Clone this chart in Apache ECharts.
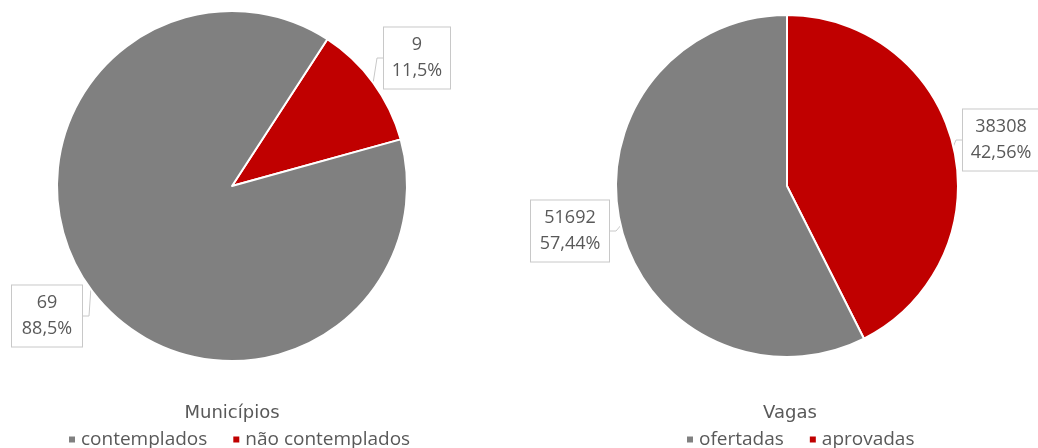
<!DOCTYPE html>
<html>
<head>
<meta charset="utf-8">
<script src="https://cdn.jsdelivr.net/npm/echarts@6/dist/echarts.min.js"></script>
<style>
  html, body { margin: 0; padding: 0; background: #fff; }
  #chart { width: 1038px; height: 448px; }
</style>
</head>
<body>
<div id="chart"></div>
<script>
  // Municípios
  const munNames = ['não contemplados', 'contemplados'];
  const munValues = [9, 69];
  // Vagas
  const vagNames = ['aprovadas', 'ofertadas'];
  const vagValues = [38308, 51692];

  const colors = { red: '#c00000', gray: '#808080' };
  const textColor = '#595959';

  // posicoes das caixas de rotulo (centro) e largura
  const labelPos = {
    'não contemplados': [417, 58, 66],
    'contemplados': [47, 316, 70],
    'aprovadas': [1001, 140, 76],
    'ofertadas': [570, 231, 78]
  };

  function mkData(names, values) {
    return names.map((n, i) => ({
      name: n,
      value: values[i],
      itemStyle: { color: i === 0 ? colors.red : colors.gray }
    }));
  }

  function labelFmt(p) {
    return p.value + '\n' + String(p.percent).replace('.', ',') + '%';
  }

  const baseLabel = {
    show: true,
    formatter: labelFmt,
    color: textColor,
    fontSize: 18,
    fontFamily: 'Open Sans, sans-serif',
    lineHeight: 26,
    backgroundColor: '#fff',
    borderColor: '#c8c8c8',
    borderWidth: 1,
    padding: [5, 0, 4, 0],
    overflow: 'none',
    align: 'center'
  };

  function layoutFor(names) {
    return function (p) {
      const pos = labelPos[names[p.dataIndex]];
      return { x: pos[0], y: pos[1], width: pos[2], verticalAlign: 'middle', align: 'center' };
    };
  }

  const myChart = echarts.init(document.getElementById('chart'));
  const option = {
    animation: false,
    title: [
      { text: 'Municípios', left: 227, top: 399, textAlign: 'center',
        textStyle: { color: textColor, fontSize: 18, fontWeight: 'normal', fontFamily: 'DejaVu Sans, sans-serif' } },
      { text: 'Vagas', left: 785, top: 399, textAlign: 'center',
        textStyle: { color: textColor, fontSize: 18, fontWeight: 'normal', fontFamily: 'DejaVu Sans, sans-serif' } }
    ],
    legend: [
      { data: ['contemplados', 'não contemplados'], left: 62, top: 425, icon: 'rect',
        itemWidth: 8, itemHeight: 8, itemGap: 24,
        textStyle: { color: textColor, fontSize: 19, fontFamily: 'Open Sans, sans-serif' } },
      { data: ['ofertadas', 'aprovadas'], left: 680, top: 425, icon: 'rect',
        itemWidth: 8, itemHeight: 8, itemGap: 24,
        textStyle: { color: textColor, fontSize: 19, fontFamily: 'Open Sans, sans-serif' } }
    ],
    series: [
      {
        type: 'pie',
        center: [232, 186],
        radius: 175,
        startAngle: 57,
        clockwise: true,
        percentPrecision: 1,
        itemStyle: { borderColor: '#fff', borderWidth: 2 },
        label: baseLabel,
        labelLine: { show: true, length: 6, length2: 6, lineStyle: { color: '#c8c8c8' } },
        labelLayout: layoutFor(munNames),
        emphasis: { disabled: true },
        data: mkData(munNames, munValues)
      },
      {
        type: 'pie',
        center: [787, 186],
        radius: 171,
        startAngle: 90,
        clockwise: true,
        percentPrecision: 2,
        itemStyle: { borderColor: '#fff', borderWidth: 2 },
        label: baseLabel,
        labelLine: { show: true, length: 6, length2: 6, lineStyle: { color: '#c8c8c8' } },
        labelLayout: layoutFor(vagNames),
        emphasis: { disabled: true },
        data: mkData(vagNames, vagValues)
      }
    ]
  };
  myChart.setOption(option);
</script>
</body>
</html>
